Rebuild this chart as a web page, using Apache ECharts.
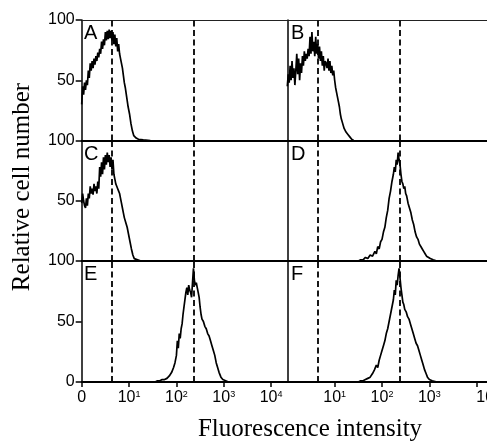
<!DOCTYPE html>
<html><head><meta charset="utf-8">
<script src="https://cdn.jsdelivr.net/npm/echarts@6/dist/echarts.min.js"></script>
<style>html,body{margin:0;padding:0;background:#fff}#c{width:487px;height:441px}</style>
</head><body><div id="c"></div>
<script>
// ---- data (x in log decades: 0 = 10^0, 1 = 10^1 ...; y = relative cell number) ----
const panelLetters = ['A','B','C','D','E','F'];
const xTickValues = [0, 1, 2, 3, 4];
const xTickLabels = ['0', '10|1', '10|2', '10|3', '10|4'];
const yTickValues = [0, 50, 100];
const markerPositions = [0.64, 2.37];

const panelA = [[0,30],[0.02,45],[0.04,38],[0.06,48],[0.08,42],[0.10,50],[0.12,46],[0.14,58],[0.16,52],[0.18,64],[0.20,58],[0.22,66],[0.24,60],[0.26,68],[0.28,63],[0.30,70],[0.32,66],[0.34,73],[0.36,69],[0.38,76],[0.40,72],[0.42,82],[0.44,76],[0.46,84],[0.48,79],[0.50,90],[0.52,83],[0.54,91],[0.56,84],[0.58,92],[0.60,85],[0.62,91],[0.64,83],[0.66,90],[0.68,80],[0.70,88],[0.72,78],[0.74,85],[0.76,74],[0.78,80],[0.80,72],[0.82,68],[0.84,64],[0.86,60],[0.88,54],[0.90,48],[0.92,44],[0.95,36],[0.98,28],[1.01,22],[1.04,14],[1.07,8],[1.10,4],[1.15,2],[1.20,1],[1.30,0.5],[1.45,0]];
const panelB = [[0,45],[0.02,55],[0.04,48],[0.06,62],[0.08,50],[0.10,66],[0.12,52],[0.14,60],[0.16,46],[0.18,58],[0.20,72],[0.22,55],[0.24,68],[0.26,50],[0.28,64],[0.30,56],[0.32,70],[0.34,62],[0.36,74],[0.38,66],[0.40,72],[0.42,68],[0.44,76],[0.46,70],[0.48,86],[0.50,72],[0.52,90],[0.54,74],[0.56,82],[0.58,70],[0.60,86],[0.62,72],[0.64,80],[0.66,68],[0.68,78],[0.70,66],[0.72,74],[0.74,62],[0.76,70],[0.78,58],[0.80,66],[0.82,64],[0.84,60],[0.86,68],[0.88,58],[0.90,66],[0.92,56],[0.94,62],[0.96,54],[0.98,58],[1.00,50],[1.02,44],[1.04,40],[1.06,36],[1.08,32],[1.10,28],[1.12,22],[1.14,18],[1.17,14],[1.20,10],[1.24,7],[1.28,5],[1.32,3],[1.36,1],[1.40,0]];
const panelC = [[0,48],[0.02,56],[0.04,50],[0.06,46],[0.08,44],[0.10,52],[0.12,46],[0.14,56],[0.16,52],[0.18,62],[0.20,56],[0.22,60],[0.24,55],[0.26,64],[0.28,58],[0.30,62],[0.32,56],[0.34,66],[0.36,60],[0.38,78],[0.40,70],[0.42,82],[0.44,72],[0.46,86],[0.48,76],[0.50,88],[0.52,80],[0.54,90],[0.56,82],[0.58,88],[0.60,78],[0.62,86],[0.64,76],[0.66,84],[0.68,72],[0.70,68],[0.72,64],[0.74,62],[0.76,60],[0.78,58],[0.80,56],[0.82,52],[0.84,48],[0.86,44],[0.88,40],[0.90,36],[0.93,32],[0.96,28],[0.99,22],[1.02,16],[1.05,10],[1.08,5],[1.11,2],[1.15,1],[1.25,0]];
const panelD = [[1.50,0],[1.55,1],[1.60,1],[1.65,3],[1.70,2],[1.75,5],[1.80,4],[1.85,8],[1.88,6],[1.91,12],[1.94,10],[1.97,16],[2.00,18],[2.03,24],[2.06,28],[2.09,36],[2.12,42],[2.15,52],[2.18,58],[2.21,66],[2.24,72],[2.26,78],[2.28,74],[2.30,84],[2.32,80],[2.34,90],[2.36,84],[2.38,80],[2.40,72],[2.42,66],[2.44,64],[2.46,60],[2.48,62],[2.50,56],[2.52,54],[2.55,48],[2.58,44],[2.61,40],[2.64,34],[2.67,30],[2.70,24],[2.73,20],[2.76,18],[2.79,14],[2.82,12],[2.85,10],[2.88,8],[2.91,6],[2.94,4],[2.98,3],[3.02,2],[3.08,1],[3.16,0]];
const panelE = [[1.55,0],[1.60,1],[1.65,1],[1.70,2],[1.75,2],[1.80,3],[1.85,5],[1.90,8],[1.94,12],[1.97,16],[2.00,22],[2.02,34],[2.04,28],[2.06,40],[2.08,36],[2.10,44],[2.12,48],[2.14,56],[2.16,62],[2.18,68],[2.20,74],[2.22,78],[2.24,72],[2.26,80],[2.28,76],[2.30,74],[2.32,70],[2.34,82],[2.36,94],[2.38,84],[2.40,80],[2.42,82],[2.44,78],[2.46,74],[2.48,70],[2.50,62],[2.52,56],[2.54,52],[2.57,50],[2.60,46],[2.63,44],[2.66,40],[2.69,38],[2.72,34],[2.75,30],[2.78,26],[2.81,22],[2.84,16],[2.87,12],[2.90,8],[2.94,4],[2.98,2],[3.04,1],[3.10,0]];
const panelF = [[1.50,0],[1.55,1],[1.60,1],[1.65,2],[1.70,3],[1.75,4],[1.80,7],[1.84,10],[1.88,14],[1.91,12],[1.94,18],[1.97,22],[2.00,26],[2.03,30],[2.06,34],[2.09,40],[2.12,44],[2.15,50],[2.18,56],[2.21,62],[2.24,68],[2.26,76],[2.28,72],[2.30,84],[2.32,80],[2.34,88],[2.36,94],[2.38,86],[2.40,78],[2.42,72],[2.44,66],[2.46,64],[2.48,60],[2.51,58],[2.54,54],[2.57,52],[2.60,48],[2.63,44],[2.66,40],[2.69,36],[2.72,32],[2.75,30],[2.78,26],[2.81,22],[2.84,18],[2.87,14],[2.90,10],[2.93,7],[2.96,4],[3.00,2],[3.06,1],[3.16,0]];

const panels = [panelA, panelB, panelC, panelD, panelE, panelF];

// ---- layout ----
const colLeft = [81.7, 287.3];
const colWidth = 206;
const rowTop = [20, 140.5, 261];
const rowHeight = [120.5, 120.5, 121];
const SANS = '"Liberation Sans", Arial, sans-serif';
const SERIF = '"Liberation Serif", "Times New Roman", serif';

const grids = [], xAxes = [], yAxes = [], series = [], graphics = [];
panels.forEach((data, i) => {
  const r = Math.floor(i / 2), c = i % 2;
  grids.push({ left: colLeft[c], top: rowTop[r], width: colWidth, height: rowHeight[r], containLabel: false, outerBoundsMode: 'none' });
  const bottom = r === 2;
  const xVals = c === 0 ? xTickValues : xTickValues.slice(1);
  xAxes.push({
    gridIndex: i, type: 'value', min: 0, max: 4.35, position: 'bottom',
    axisLine: { show: true, onZero: false, lineStyle: { color: '#000', width: 2 } },
    axisTick: { show: bottom, customValues: xVals, length: 5, inside: false, lineStyle: { color: '#000', width: 1.5 } },
    axisLabel: {
      show: bottom, customValues: xVals, margin: 8, hideOverlap: false,
      formatter: v => {
        const lab = xTickLabels[xTickValues.indexOf(v)];
        if (!lab) return '';
        const parts = lab.split('|');
        if (parts.length === 1) return '{b|' + parts[0] + '}';
        const base = (c === 1 && v === 4) ? 'e' : 'b';
        return '{' + base + '|' + parts[0] + '}{s|' + parts[1] + '}';
      },
      rich: {
        b: { fontFamily: SANS, fontSize: 16, color: '#000' },
        e: { fontFamily: SANS, fontSize: 16, color: '#000', padding: [0, 0, 0, 22] },
        s: { fontFamily: SANS, fontSize: 9, color: '#000', verticalAlign: 'top', padding: [0, 0, 7, 0] }
      }
    },
    splitLine: { show: false }
  });
  const yVals = r === 2 ? yTickValues : yTickValues.slice(1);
  yAxes.push({
    gridIndex: i, type: 'value', min: 0, max: 100, interval: 50,
    axisLine: { show: true, onZero: false, lineStyle: { color: '#000', width: 1.5 } },
    axisTick: { show: c === 0, customValues: yVals, length: 6, lineStyle: { color: '#000', width: 1.5 } },
    axisLabel: { show: c === 0, customValues: yVals, margin: 7, fontFamily: SANS, fontSize: 16, color: '#000' },
    splitLine: { show: false }
  });
  series.push({
    type: 'line', xAxisIndex: i, yAxisIndex: i, data: data,
    showSymbol: false, symbol: 'none', silent: true, clip: true,
    lineStyle: { color: '#000', width: 1.7 },
    markLine: {
      symbol: 'none', silent: true, animation: false,
      label: { show: false },
      lineStyle: { color: '#000', width: 1.8, type: [6, 3.5] },
      data: markerPositions.map(p => ({ xAxis: p }))
    }
  });
  graphics.push({
    type: 'text', left: c === 0 ? 84 : 291, top: rowTop[r] + 3.5,
    style: { text: panelLetters[i], font: '20px ' + SANS, fill: '#000' }
  });
});
// thin top border on first row
[0, 1].forEach(i => {
  xAxes.push({
    gridIndex: i, type: 'value', min: 0, max: 4.35, position: 'top',
    axisLine: { show: true, onZero: false, lineStyle: { color: '#222', width: 1 } },
    axisTick: { show: false }, axisLabel: { show: false }, splitLine: { show: false }
  });
});
graphics.push({
  type: 'text', x: 22, y: 187, rotation: Math.PI / 2,
  style: { text: 'Relative cell number', font: '25px ' + SERIF, fill: '#000', align: 'center', verticalAlign: 'middle' }
});
graphics.push({
  type: 'text', x: 310, y: 429,
  style: { text: 'Fluorescence intensity', font: '25px ' + SERIF, fill: '#000', align: 'center', verticalAlign: 'middle' }
});

const chart = echarts.init(document.getElementById('c'), null, { renderer: 'canvas' });
chart.setOption({
  backgroundColor: '#fff',
  animation: false,
  grid: grids, xAxis: xAxes, yAxis: yAxes, series: series, graphic: graphics
});
</script></body></html>
